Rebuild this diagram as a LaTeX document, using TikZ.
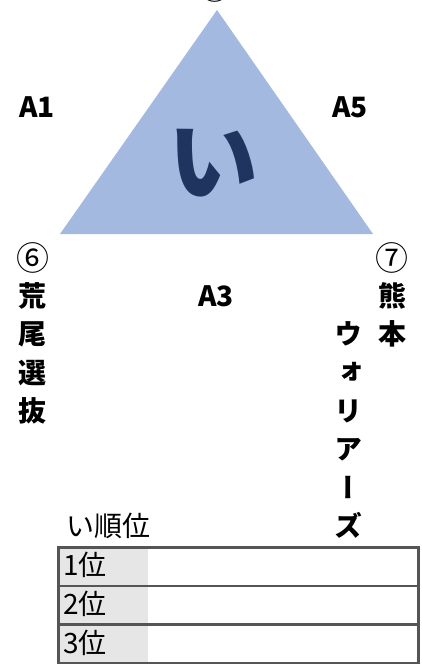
\documentclass[tikz,border=0pt]{standalone}
\usepackage{fontspec}
\newfontfamily\jp{Noto Sans CJK JP}
\newfontfamily\jpv[RawFeature=+vert]{Noto Sans CJK JP}
\usetikzlibrary{positioning}
\definecolor{triblue}{HTML}{A3B9E0}
\definecolor{navy}{HTML}{1F3560}
\definecolor{cellgray}{HTML}{E6E6E6}
\definecolor{linegray}{HTML}{555555}
\tikzset{
  lbl/.style={font=\jp\bfseries\fontsize{28}{39}\selectfont, inner sep=0pt},
  num/.style={font=\jp\fontsize{33}{35}\selectfont, inner sep=0pt},
  vlbl/.style={font=\jpv\bfseries\fontsize{28}{38.5}\selectfont, inner sep=0pt, align=center, anchor=north},
  ranktxt/.style={font=\jp\fontsize{28}{30}\selectfont, inner sep=0pt, anchor=west},
  rowbox/.style={draw=linegray, line width=2.5pt, minimum width=360pt, minimum height=38.7pt, inner sep=0pt, anchor=north west}
}

\begin{document}
\begin{tikzpicture}[x=1pt,y=-1pt]
\useasboundingbox (0,0) rectangle (421,664);
% group triangle
\coordinate (top) at (217,10);
\coordinate (bl) at (60,234);
\coordinate (br) at (373,234);
\fill[triblue] (top) -- (bl) -- (br) -- cycle;
\node[font=\jp\bfseries\fontsize{90}{90}\selectfont, text=navy, inner sep=0pt] (grp) at (213,163) {い};

% match labels
\node[lbl] (a1) at (37,107) {A1};
\node[lbl] (a5) at (350,107) {A5};
\node[lbl] (a3) at (216,296) {A3};

% teams
\node[num] (n5) at (215,-13) {⑤};
\node[num] (n6) at (33,258) {⑥};
\node[num] (n7) at (392,258) {⑦};
\node[vlbl] (t6) at (33,282) {荒\\尾\\選\\抜};
\node[vlbl] (t7a) at (392,282) {熊\\本};
\node[vlbl] (t7b) at (348,321) {ウ\\ォ\\リ\\ア\\ー\\ズ};

% ranking table
\node[ranktxt] (rk) at (66,526) {い順位};
\foreach \i/\y in {1/546,2/584.7,3/623.4} {
  \fill[cellgray] (57,\y) rectangle (148,\y+38.7);
  \node[rowbox] (row\i) at (57,\y) {};
  \node[ranktxt] (rank\i) at (63,\y+19.3) {{\i}位};
}
\end{tikzpicture}
\end{document}
